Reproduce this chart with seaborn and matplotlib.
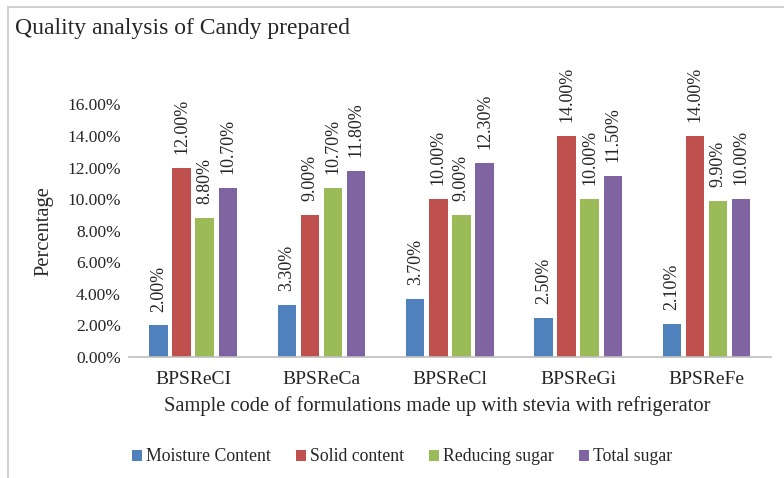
import pandas as pd
import seaborn as sns
import matplotlib.pyplot as plt
from matplotlib.patches import Rectangle

# values
samples = ["BPSReCI", "BPSReCa", "BPSReCl", "BPSReGi", "BPSReFe"]
moisture = [2.0, 3.3, 3.7, 2.5, 2.1]
solid = [12.0, 9.0, 10.0, 14.0, 14.0]
reducing = [8.8, 10.7, 9.0, 10.0, 9.9]
total = [10.7, 11.8, 12.3, 11.5, 10.0]
series_names = ["Moisture Content", "Solid content", "Reducing sugar", "Total sugar"]
y_ticks = [0, 2, 4, 6, 8, 10, 12, 14, 16]

df = pd.DataFrame({"Sample": samples,
                   series_names[0]: moisture,
                   series_names[1]: solid,
                   series_names[2]: reducing,
                   series_names[3]: total})
long_df = df.melt(id_vars="Sample", var_name="Parameter", value_name="Value")

sns.set_style("white")
plt.rcParams['font.family'] = ['Liberation Serif', 'DejaVu Serif']

palette = ['#4F81BD', '#C0504D', '#9BBB59', '#8064A2']

fig = plt.figure(figsize=(7.84, 4.78), dpi=100)
ax = fig.add_axes([0.1645, 0.2531, 0.8185, 0.5283])

sns.barplot(data=long_df, x="Sample", y="Value", hue="Parameter",
            palette=palette, saturation=1, width=0.72, gap=0.2, ax=ax,
            legend=True, edgecolor='none')

# data labels on top of each bar
for cont in ax.containers:
    ax.bar_label(cont, labels=[f"{v:.2f}%" for v in cont.datavalues],
                 rotation=90, padding=10, fontsize=13, clip_on=False)

ax.set_ylim(0, 16)
ax.set_yticks(y_ticks)
ax.set_yticklabels([f"{t:.2f}%" for t in y_ticks], fontsize=12.5)
ax.tick_params(axis='x', labelsize=14, length=0, pad=10)
ax.tick_params(axis='y', length=0, pad=6)
ax.set_xlim(-0.5, len(samples) - 0.5)

for side in ['top', 'right', 'left']:
    ax.spines[side].set_visible(False)
ax.spines['bottom'].set_color('#BFBFBF')
ax.spines['bottom'].set_linewidth(1.2)

ax.set_xlabel("Sample code of formulations made up with stevia with refrigerator", fontsize=14.8)
ax.xaxis.set_label_coords(0.48, -0.155)
ax.set_ylabel("Percentage", fontsize=14.8)
ax.yaxis.set_label_coords(-0.118, 0.5)

handles, labels = ax.get_legend_handles_labels()
ax.legend_.remove()
fig.legend(handles, labels, loc='center', bbox_to_anchor=(0.513, 0.044), ncol=4,
           frameon=False, fontsize=12.8, handlelength=0.55, handleheight=0.55,
           handletextpad=0.25, columnspacing=1.4)

fig.text(0.019, 0.94, "Quality analysis of Candy prepared", fontsize=17,
         va='center', ha='left')

# light frame around the chart (top and left edges visible)
fig.add_artist(Rectangle((8 / 784, -0.1), 1.2, 1.1 - 7.5 / 478,
                         transform=fig.transFigure, fill=False,
                         edgecolor='#D0D0D0', linewidth=1.5))

fig.savefig("out.png", dpi=100)
